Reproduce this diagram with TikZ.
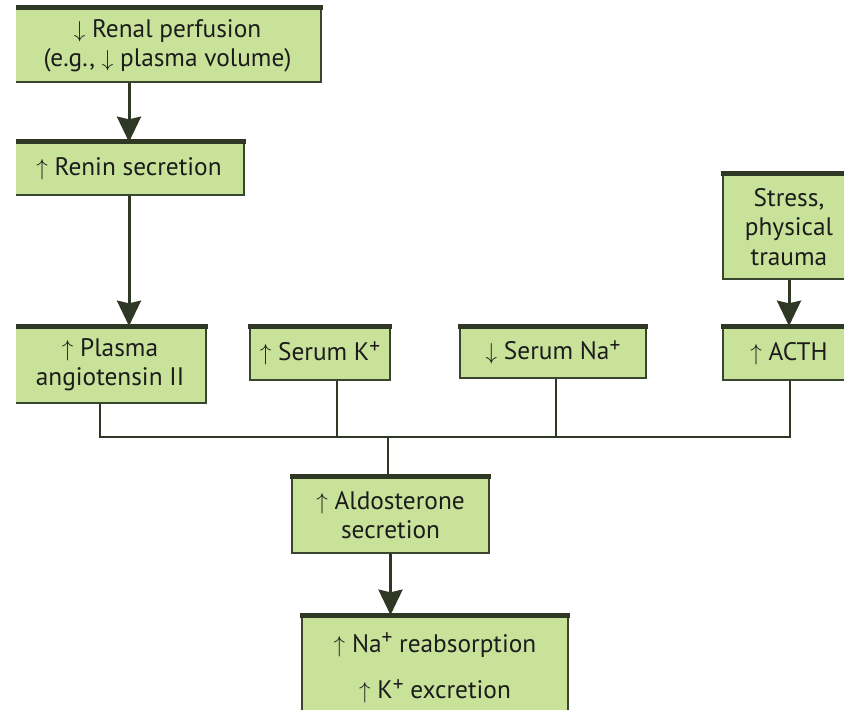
\documentclass[tikz,border=0pt]{standalone}
\usepackage{fontspec}
\setmainfont{PT Sans}
\usetikzlibrary{arrows.meta}
\definecolor{boxfill}{HTML}{C9E29A}
\definecolor{boxline}{HTML}{3A4530}
\definecolor{barcol}{HTML}{2E3824}
\definecolor{txt}{HTML}{1C1C1C}
\newcommand{\plusup}{\raisebox{0.6ex}{\fontsize{16}{16}\selectfont +}}
\begin{document}
\begin{tikzpicture}[x=0.75pt,y=-0.75pt,
  box/.style={draw=boxline, line width=1.5pt, fill=boxfill, rectangle, inner sep=0pt,
    font=\fontsize{19}{22}\selectfont, align=center, text=txt},
  sz/.style 2 args={minimum width=#1*0.75pt, minimum height=#2*0.75pt},
  topbar/.style={draw=barcol, line width=3.75pt},
  arr/.style={draw=barcol, line width=2.25pt, -{Stealth[length=19pt,width=18pt,inset=2pt]}},
  bus/.style={draw=barcol, line width=1.9pt}]
\useasboundingbox (0,0) rectangle (844,710);
\fill[white] (0,0) rectangle (844,710);
\begin{scope}
\clip (16,0) rectangle (844,710);
\node[box, sz={307}{73}] (b1) at (167.5,45.5) {$\downarrow$ Renal perfusion\\(e.g., $\downarrow$ plasma volume)};
\node[box, sz={230}{52}] (b2) at (129,169) {$\uparrow$ Renin secretion};
\node[box, sz={192}{76}] (b3) at (110,365) {$\uparrow$ Plasma\\angiotensin II};
\node[box, sz={140}{53}] (b4) at (320,353.5) {$\uparrow$ Serum K\plusup};
\node[box, sz={186}{51}] (b5) at (553,352.5) {$\downarrow$ Serum Na\plusup};
\node[box, sz={132}{53}] (b6) at (789,353.5) {$\uparrow$ ACTH};
\node[box, sz={132}{104}] (st) at (789,227) {Stress,\\physical\\trauma};
\node[box, sz={197}{76}] (ald) at (390.5,515) {$\uparrow$ Aldosterone\\secretion};
\node[box, sz={266}{134}] (fin) at (435,683) {};
\node[font=\fontsize{19}{22}\selectfont, align=center, text=txt, inner sep=0pt] (fintext) at (435,668)
  {$\uparrow$ Na\plusup{} reabsorption\\[13pt]$\uparrow$ K\plusup{} excretion};
\foreach \n in {b1,b2,b3,b4,b5,b6,st,ald,fin}{
  \draw[topbar] ([xshift=-0.75pt]\n.north west) -- ([xshift=0.75pt]\n.north east);
}
\coordinate (j1) at (100,437);
\coordinate (j2) at (337,437);
\coordinate (j3) at (556,437);
\coordinate (j4) at (790,437);
\coordinate (j5) at (388,437);
\draw[arr] (b1.south -| b2.north) -- (b2.north);
\draw[arr] (b2.south) -- (b2.south |- b3.north);
\draw[arr] (st.south) -- (b6.north);
\draw[bus] (b3.south -| j1) -- (j1);
\draw[bus] (b4.south -| j2) -- (j2);
\draw[bus] (b5.south -| j3) -- (j3);
\draw[bus] (b6.south -| j4) -- (j4);
\draw[bus] ([xshift=-0.95pt]j1) -- ([xshift=0.95pt]j4);
\draw[bus] (j5) -- (ald.north -| j5);
\draw[arr] (ald.south) -- (ald.south |- fin.north);
\end{scope}
\end{tikzpicture}
\end{document}
